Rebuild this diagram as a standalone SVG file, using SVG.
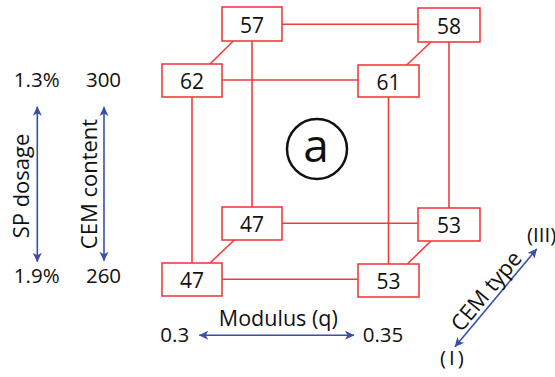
<svg xmlns="http://www.w3.org/2000/svg" width="555" height="377" viewBox="0 0 555 377">
<style>
.box{fill:#fff;stroke:#f23c3c;stroke-width:1.6}
.con{stroke:#f23c3c;stroke-width:1.6;fill:none}
.num{font-family:"Open Sans","Noto Sans",sans-serif;font-size:21px;fill:#111;text-anchor:middle}
.lbl{font-family:"Open Sans","Noto Sans",sans-serif;font-size:20.5px;fill:#111;text-anchor:middle}
.axl{font-family:"Open Sans","Noto Sans",sans-serif;font-size:22px;fill:#111;text-anchor:middle}
.ax{stroke:#3b4ea5;stroke-width:1.6;fill:none;marker-start:url(#ah);marker-end:url(#ah)}
</style>
<defs>
<marker id="ah" viewBox="-10 -5 11 10" refX="0" refY="0" markerWidth="11" markerHeight="10" markerUnits="userSpaceOnUse" orient="auto-start-reverse">
<path d="M0.5,0 L-9,-4.5 L-6.5,0 L-9,4.5 Z" fill="#3b4ea5"/>
</marker>
</defs>
<rect width="555" height="377" fill="#fff"/>
<g id="connectors">
<line class="con" x1="282" y1="24.3" x2="418" y2="24.3"/>
<line class="con" x1="222" y1="80" x2="358" y2="80"/>
<line class="con" x1="282" y1="223.3" x2="418" y2="223.3"/>
<line class="con" x1="222" y1="279.3" x2="358" y2="279.3"/>
<line class="con" x1="233.3" y1="41" x2="210" y2="64"/>
<line class="con" x1="431" y1="42" x2="406.7" y2="65"/>
<line class="con" x1="234.3" y1="240" x2="210" y2="263"/>
<line class="con" x1="431" y1="241" x2="407.3" y2="264"/>
<line class="con" x1="192" y1="97" x2="192" y2="263"/>
<line class="con" x1="252" y1="41" x2="252" y2="207"/>
<line class="con" x1="388.5" y1="97" x2="388.5" y2="264"/>
<line class="con" x1="449" y1="42" x2="449" y2="208"/>
</g>
<g id="n57"><rect class="box" x="222" y="7" width="60" height="34"/><text class="num" x="252" y="32.5">57</text></g>
<g id="n58"><rect class="box" x="418" y="8" width="62" height="34"/><text class="num" x="449" y="33.5">58</text></g>
<g id="n62"><rect class="box" x="162" y="64" width="60" height="33"/><text class="num" x="192" y="89">62</text></g>
<g id="n61"><rect class="box" x="358" y="65" width="61" height="32"/><text class="num" x="388.5" y="89.5">61</text></g>
<g id="n47t"><rect class="box" x="222" y="207" width="60" height="33"/><text class="num" x="252" y="232">47</text></g>
<g id="n53t"><rect class="box" x="418" y="208" width="62" height="33"/><text class="num" x="449" y="233">53</text></g>
<g id="n47b"><rect class="box" x="162" y="263" width="60" height="33"/><text class="num" x="192" y="288">47</text></g>
<g id="n53b"><rect class="box" x="358" y="264" width="61" height="33"/><text class="num" x="388.5" y="289">53</text></g>
<g id="label-a">
<circle cx="317" cy="149" r="30" fill="none" stroke="#111" stroke-width="2.5"/>
<text x="316" y="161.5" font-family="'Open Sans','Noto Sans',sans-serif" font-size="46" text-anchor="middle" fill="#111">a</text>
</g>
<g id="axis-sp">
<text class="lbl" x="36.7" y="86.7">1.3%</text>
<text class="lbl" x="36.7" y="283">1.9%</text>
<line class="ax" x1="37.3" y1="106.7" x2="37.3" y2="261.7"/>
<text class="axl" transform="translate(28.5,186) rotate(-90)">SP dosage</text>
</g>
<g id="axis-cem">
<text class="lbl" x="103.5" y="86.7">300</text>
<text class="lbl" x="103.5" y="283">260</text>
<line class="ax" x1="104" y1="107" x2="104" y2="260.7"/>
<text class="axl" transform="translate(96.5,184) rotate(-90)">CEM content</text>
</g>
<g id="axis-modulus">
<text class="lbl" x="174.7" y="342.3">0.3</text>
<text class="lbl" x="383" y="342.3">0.35</text>
<line class="ax" x1="199.3" y1="335.3" x2="354" y2="335.3"/>
<text class="axl" style="font-size:21.5px" x="278.3" y="326">Modulus (q)</text>
</g>
<g id="axis-type">
<line class="ax" x1="455" y1="346.7" x2="536.7" y2="249"/>
<text class="axl" transform="translate(492,296) rotate(-50.1)">CEM type</text>
<text class="lbl" x="527" y="241.7" style="text-anchor:start">(III)</text>
<text class="lbl" x="453.5" y="365" letter-spacing="3">(I)</text>
</g>
</svg>
